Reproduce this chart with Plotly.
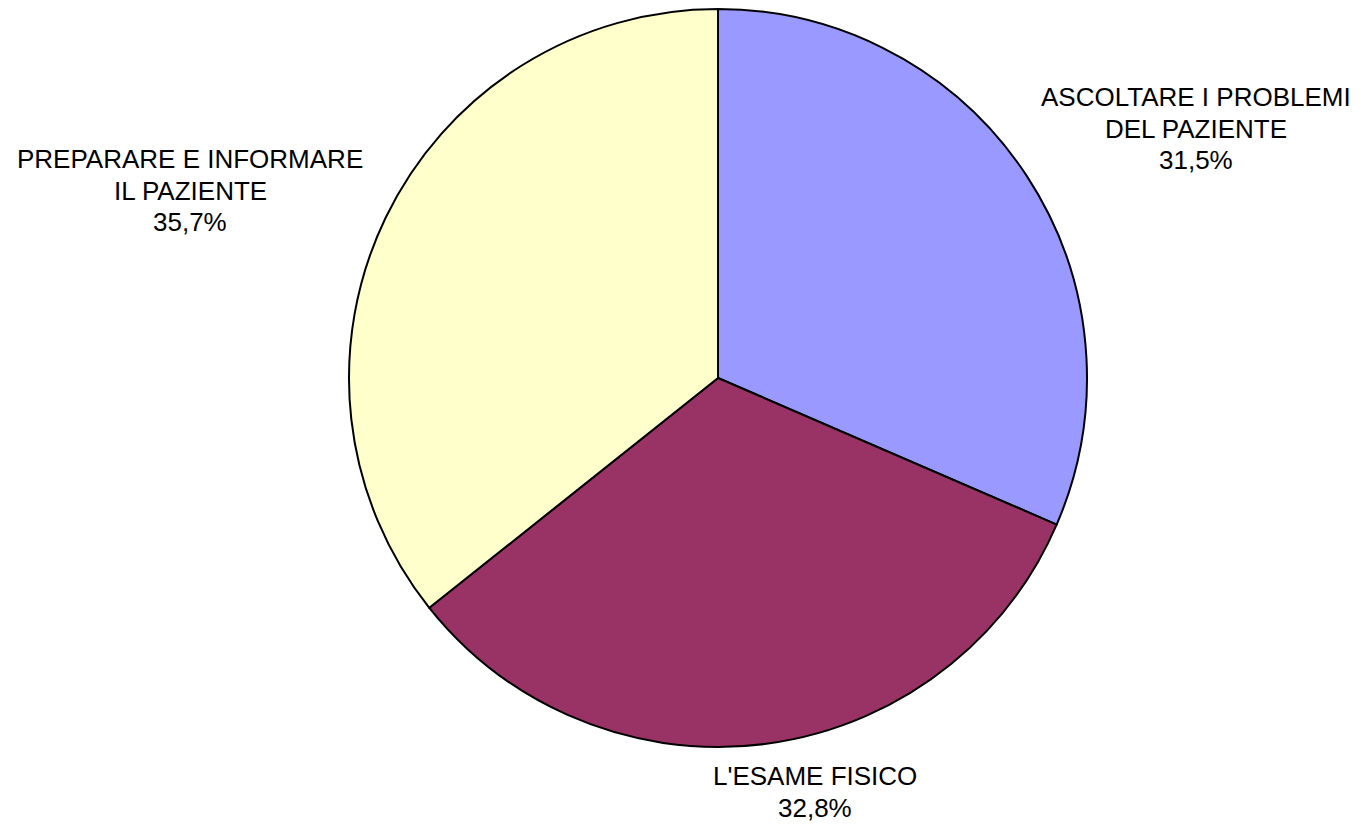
import plotly.graph_objects as go

# Survey shares per activity (percent)
categories = ["ASCOLTARE I PROBLEMI<br>DEL PAZIENTE", "L'ESAME FISICO", "PREPARARE E INFORMARE<br>IL PAZIENTE"]
values = [31.5, 32.8, 35.7]
colors = ["#9999FF", "#993366", "#FFFFCC"]

# Label block anchors in pixels (centre x, first line centre y)
label_pos = [(1196, 97), (815, 776), (190, 159)]

W, H = 1363, 825
cx, cy, r = 718, 378, 369
line_gap = 31.5

fig = go.Figure(go.Pie(
    labels=categories,
    values=values,
    sort=False,
    direction="clockwise",
    rotation=0,
    marker=dict(colors=colors, line=dict(color="#000000", width=2)),
    textinfo="none",
    hoverinfo="label+percent",
    showlegend=False,
    domain=dict(x=[(cx - r) / W, (cx + r) / W],
                y=[(H - cy - r) / H, (H - cy + r) / H]),
))

annotations = []
for name, val, (px, py) in zip(categories, values, label_pos):
    lines = name.split("<br>") + [f"{val:.1f}".replace(".", ",") + "%"]
    for i, line in enumerate(lines):
        annotations.append(dict(
            text=line, x=px / W, y=1 - (py + i * line_gap) / H,
            xref="paper", yref="paper", xanchor="center", yanchor="middle",
            showarrow=False,
            font=dict(family="Liberation Sans, Arial, sans-serif", size=26, color="#000000"),
        ))

fig.update_layout(
    width=W, height=H,
    margin=dict(l=0, r=0, t=0, b=0),
    paper_bgcolor="#FFFFFF",
    plot_bgcolor="#FFFFFF",
    annotations=annotations,
)

fig.write_html("out.html")
